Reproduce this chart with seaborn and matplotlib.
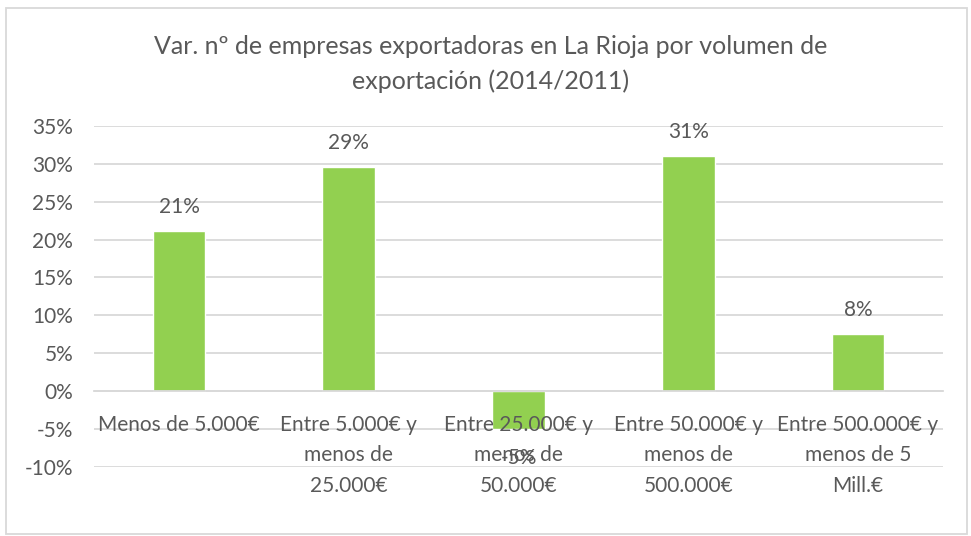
import pandas as pd
import seaborn as sns
import matplotlib.pyplot as plt
from matplotlib.patches import Rectangle
from matplotlib.ticker import PercentFormatter

categories = [
    "Menos de 5.000€",
    "Entre 5.000€ y\nmenos de\n25.000€",
    "Entre 25.000€ y\nmenos de\n50.000€",
    "Entre 50.000€ y\nmenos de\n500.000€",
    "Entre 500.000€ y\nmenos de 5\nMill.€",
]
variation = [0.211, 0.296, -0.050, 0.310, 0.075]
value_labels = ["21%", "29%", "-5%", "31%", "8%"]
y_ticks = [-0.10, -0.05, 0.0, 0.05, 0.10, 0.15, 0.20, 0.25, 0.30, 0.35]

TEXT = "#595959"
GRID = "#D9D9D9"
GREEN = "#92D050"

sns.set_theme(style="white")
plt.rcParams["font.family"] = ["Lato", "DejaVu Sans"]
plt.rcParams["axes.unicode_minus"] = False

df = pd.DataFrame({"cat": categories, "var": variation})

fig = plt.figure(figsize=(9.71, 5.36), dpi=100)
ax = fig.add_axes([0.097, 0.129, 0.874, 0.636])

sns.barplot(data=df, x="cat", y="var", color=GREEN, width=0.31,
            saturation=1, ax=ax, zorder=1)

ax.set_ylim(-0.10, 0.35)
ax.set_yticks(y_ticks)
ax.yaxis.set_major_formatter(PercentFormatter(1.0, decimals=0))
# gridlines behind bars, tick labels (axis) drawn on top of bars
for yt in y_ticks:
    ax.axhline(yt, color=GRID, linewidth=1.3, zorder=0.5)
ax.set_axisbelow(False)
for side in ["top", "right", "left"]:
    ax.spines[side].set_visible(False)
ax.spines["bottom"].set_position(("data", 0))
ax.spines["bottom"].set_color(GRID)
ax.spines["bottom"].set_linewidth(1.3)
ax.set_xlabel("")
ax.set_ylabel("")
ax.tick_params(axis="y", length=0, pad=15, labelsize=15, labelcolor=TEXT)
ax.tick_params(axis="x", length=0, pad=17, labelsize=15, labelcolor=TEXT)
for lbl in ax.get_xticklabels():
    lbl.set_linespacing(1.65)

for i, (v, t) in enumerate(zip(variation, value_labels)):
    ax.annotate(t, (i, v), xytext=(0, 10 if v >= 0 else -14),
                textcoords="offset points", ha="center",
                va="bottom" if v >= 0 else "top", fontsize=15, color=TEXT,
                zorder=3)

fig.text(0.505, 0.881, "Var. nº de empresas exportadoras en La Rioja por volumen de\nexportación (2014/2011)",
         ha="center", va="center", fontsize=18, color=TEXT, linespacing=1.6)

fig.patches.append(Rectangle((6 / 971, 2 / 536), 961 / 971, 526 / 536,
                             transform=fig.transFigure, fill=False,
                             edgecolor=GRID, linewidth=1.3))

fig.savefig("out.png", dpi=100)
